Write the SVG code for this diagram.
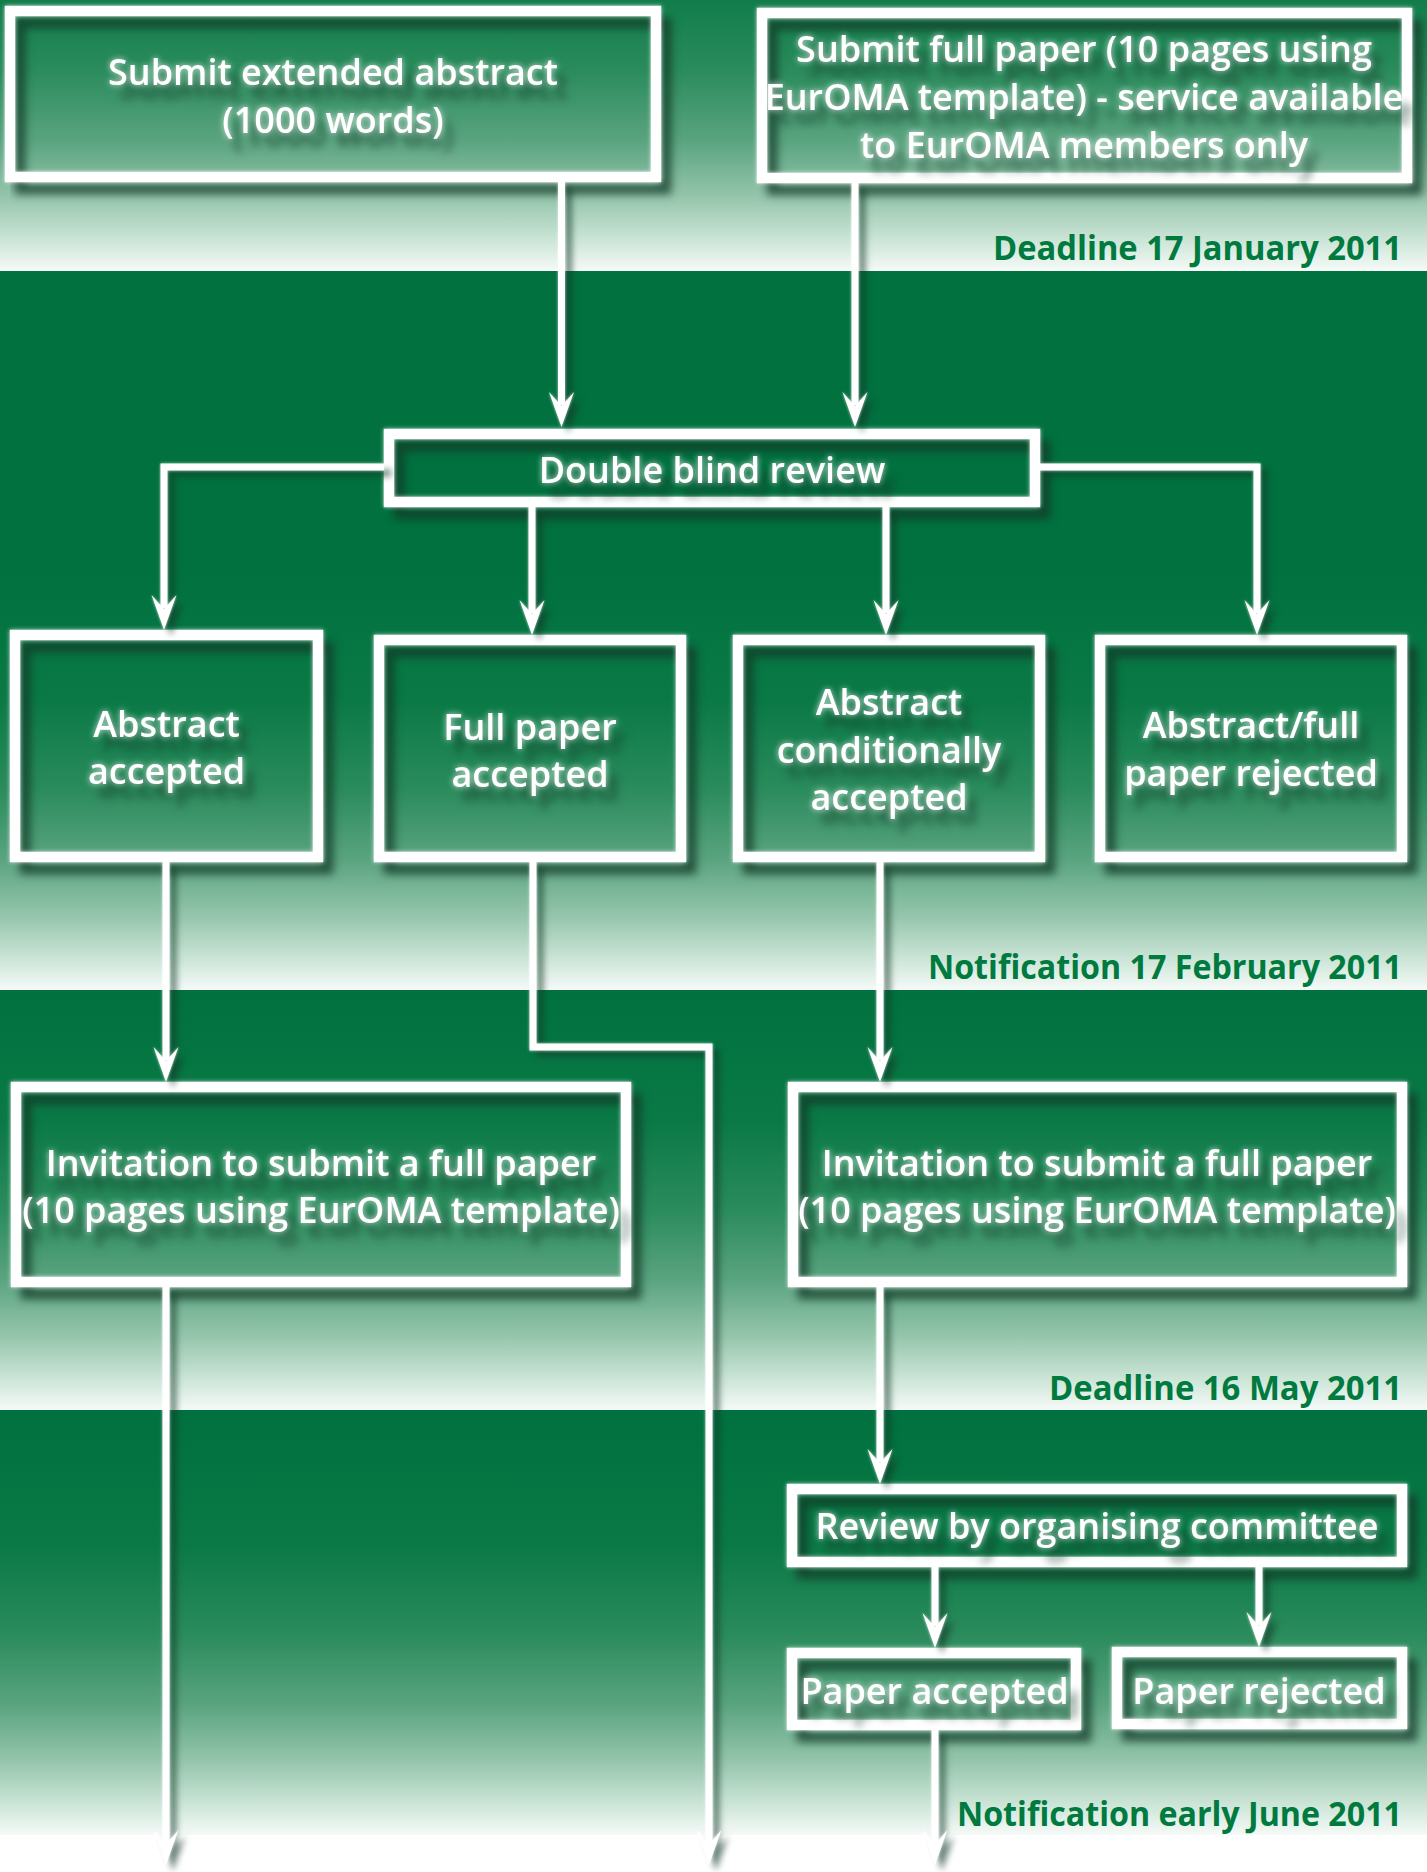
<svg xmlns="http://www.w3.org/2000/svg" width="1427" height="1872" viewBox="0 0 1427 1872">
<style>
.box{fill:none;stroke:#ffffff;stroke-width:10.5}
.t{font-family:'Open Sans','Liberation Sans',Arial,sans-serif;font-weight:600;font-size:36px;fill:#ffffff;text-anchor:middle}
.lbl{font-family:'Open Sans','Liberation Sans',Arial,sans-serif;font-weight:700;font-size:34px;fill:#007a3f;text-anchor:end}
.con{fill:none;stroke:#ffffff;stroke-width:7;stroke-linejoin:miter;marker-end:url(#ah)}
</style>
<defs>
<linearGradient id="g1" gradientUnits="userSpaceOnUse" x1="0" y1="-149" x2="0" y2="271">
<stop offset="0" stop-color="#00713f"/><stop offset="0.31" stop-color="#0a7946"/><stop offset="0.52" stop-color="#2a8b5c"/><stop offset="0.69" stop-color="#5aa480"/><stop offset="0.83" stop-color="#98c7ae"/><stop offset="0.94" stop-color="#d3e9dd"/><stop offset="1" stop-color="#f6faf8"/>
</linearGradient>
<linearGradient id="g2" gradientUnits="userSpaceOnUse" x1="0" y1="570" x2="0" y2="990">
<stop offset="0" stop-color="#00713f"/><stop offset="0.31" stop-color="#0a7946"/><stop offset="0.52" stop-color="#2a8b5c"/><stop offset="0.69" stop-color="#5aa480"/><stop offset="0.83" stop-color="#98c7ae"/><stop offset="0.94" stop-color="#d3e9dd"/><stop offset="1" stop-color="#f6faf8"/>
</linearGradient>
<linearGradient id="g3" gradientUnits="userSpaceOnUse" x1="0" y1="990" x2="0" y2="1410">
<stop offset="0" stop-color="#00713f"/><stop offset="0.31" stop-color="#0a7946"/><stop offset="0.52" stop-color="#2a8b5c"/><stop offset="0.69" stop-color="#5aa480"/><stop offset="0.83" stop-color="#98c7ae"/><stop offset="0.94" stop-color="#d3e9dd"/><stop offset="1" stop-color="#f6faf8"/>
</linearGradient>
<linearGradient id="g4" gradientUnits="userSpaceOnUse" x1="0" y1="1415" x2="0" y2="1835">
<stop offset="0" stop-color="#00713f"/><stop offset="0.31" stop-color="#0a7946"/><stop offset="0.52" stop-color="#2a8b5c"/><stop offset="0.69" stop-color="#5aa480"/><stop offset="0.83" stop-color="#98c7ae"/><stop offset="0.94" stop-color="#d3e9dd"/><stop offset="1" stop-color="#f6faf8"/>
</linearGradient>
<filter id="fbox" filterUnits="userSpaceOnUse" x="0" y="0" width="1427" height="1872" color-interpolation-filters="sRGB">
<feGaussianBlur in="SourceAlpha" stdDeviation="4.5" result="b"/>
<feOffset in="b" dx="10" dy="12" result="o"/>
<feFlood flood-color="#123a28" flood-opacity="0.78"/>
<feComposite in2="o" operator="in" result="sh"/>
<feGaussianBlur in="SourceAlpha" stdDeviation="2" result="g"/>
<feFlood flood-color="#ffffff" flood-opacity="0.7"/>
<feComposite in2="g" operator="in" result="gl"/>
<feMerge><feMergeNode in="sh"/><feMergeNode in="gl"/><feMergeNode in="SourceGraphic"/></feMerge>
</filter>
<filter id="ftx" filterUnits="userSpaceOnUse" x="0" y="0" width="1427" height="1872" color-interpolation-filters="sRGB">
<feGaussianBlur in="SourceAlpha" stdDeviation="4" result="b"/>
<feOffset in="b" dx="10" dy="14" result="o"/>
<feFlood flood-color="#123a28" flood-opacity="0.65"/>
<feComposite in2="o" operator="in" result="sh"/>
<feGaussianBlur in="SourceAlpha" stdDeviation="3" result="g"/>
<feFlood flood-color="#ffffff" flood-opacity="0.8"/>
<feComposite in2="g" operator="in" result="gl"/>
<feMerge><feMergeNode in="sh"/><feMergeNode in="gl"/><feMergeNode in="SourceGraphic"/></feMerge>
</filter>
<filter id="fcon" filterUnits="userSpaceOnUse" x="0" y="0" width="1427" height="1872" color-interpolation-filters="sRGB">
<feGaussianBlur in="SourceAlpha" stdDeviation="3" result="b"/>
<feOffset in="b" dx="7" dy="6" result="o"/>
<feFlood flood-color="#123a28" flood-opacity="0.6"/>
<feComposite in2="o" operator="in" result="sh"/>
<feGaussianBlur in="SourceAlpha" stdDeviation="1.5" result="g"/>
<feFlood flood-color="#ffffff" flood-opacity="0.7"/>
<feComposite in2="g" operator="in" result="gl"/>
<feMerge><feMergeNode in="sh"/><feMergeNode in="gl"/><feMergeNode in="SourceGraphic"/></feMerge>
</filter>
<marker id="ah" markerUnits="userSpaceOnUse" markerWidth="60" markerHeight="40" viewBox="-40 -20 60 40" refX="0" refY="0" orient="auto" overflow="visible">
<path d="M22,0 L-13,-12.5 L1,0 L-13,12.5 Z" fill="#ffffff"/>
</marker>
</defs>

<g id="background">
<rect x="0" y="0" width="1427" height="1872" fill="#ffffff"/>
<rect x="0" y="0" width="1427" height="271" fill="url(#g1)"/>
<rect x="0" y="271" width="1427" height="719" fill="url(#g2)"/>
<rect x="0" y="990" width="1427" height="420" fill="url(#g3)"/>
<rect x="0" y="1410" width="1427" height="425" fill="url(#g4)"/>
</g>

<g id="labels">
<text class="lbl" x="1402" y="260" textLength="409" lengthAdjust="spacingAndGlyphs">Deadline 17 January 2011</text>
<text class="lbl" x="1402" y="979" textLength="474" lengthAdjust="spacingAndGlyphs">Notification 17 February 2011</text>
<text class="lbl" x="1402" y="1400" textLength="353" lengthAdjust="spacingAndGlyphs">Deadline 16 May 2011</text>
<text class="lbl" x="1402" y="1826" textLength="445" lengthAdjust="spacingAndGlyphs">Notification early June 2011</text>
</g>

<g id="n-submit-abstract">
<rect class="box" x="10" y="11" width="646" height="166" filter="url(#fbox)"/>
<text class="t" filter="url(#ftx)"><tspan x="333" y="85">Submit extended abstract</tspan><tspan x="333" y="133">(1000 words)</tspan></text>
</g>
<g id="n-submit-full">
<rect class="box" x="762" y="13" width="645" height="165" filter="url(#fbox)"/>
<text class="t" filter="url(#ftx)"><tspan x="1084" y="62">Submit full paper (10 pages using</tspan><tspan x="1084" y="110">EurOMA template) - service available</tspan><tspan x="1084" y="158">to EurOMA members only</tspan></text>
</g>
<g id="n-double-blind">
<rect class="box" x="389" y="434" width="646" height="68" filter="url(#fbox)"/>
<text class="t" filter="url(#ftx)" x="712" y="483">Double blind review</text>
</g>
<g id="n-abstract-accepted">
<rect class="box" x="15" y="635" width="303" height="222" filter="url(#fbox)"/>
<text class="t" filter="url(#ftx)"><tspan x="166.5" y="737">Abstract</tspan><tspan x="166.5" y="784">accepted</tspan></text>
</g>
<g id="n-full-accepted">
<rect class="box" x="379" y="640" width="302" height="217" filter="url(#fbox)"/>
<text class="t" filter="url(#ftx)"><tspan x="530" y="740">Full paper</tspan><tspan x="530" y="787">accepted</tspan></text>
</g>
<g id="n-abstract-conditional">
<rect class="box" x="738" y="640" width="302" height="217" filter="url(#fbox)"/>
<text class="t" filter="url(#ftx)"><tspan x="889" y="715">Abstract</tspan><tspan x="889" y="763">conditionally</tspan><tspan x="889" y="810">accepted</tspan></text>
</g>
<g id="n-rejected">
<rect class="box" x="1100" y="640" width="302" height="217" filter="url(#fbox)"/>
<text class="t" filter="url(#ftx)"><tspan x="1251" y="738">Abstract/full</tspan><tspan x="1251" y="786">paper rejected</tspan></text>
</g>
<g id="n-invite-left">
<rect class="box" x="16" y="1087" width="610" height="195" filter="url(#fbox)"/>
<text class="t" filter="url(#ftx)"><tspan x="321" y="1176">Invitation to submit a full paper</tspan><tspan x="321" y="1223">(10 pages using EurOMA template)</tspan></text>
</g>
<g id="n-invite-right">
<rect class="box" x="793" y="1087" width="609" height="195" filter="url(#fbox)"/>
<text class="t" filter="url(#ftx)"><tspan x="1097" y="1176">Invitation to submit a full paper</tspan><tspan x="1097" y="1223">(10 pages using EurOMA template)</tspan></text>
</g>
<g id="n-review">
<rect class="box" x="792" y="1489" width="610" height="73" filter="url(#fbox)"/>
<text class="t" filter="url(#ftx)" x="1097" y="1539">Review by organising committee</text>
</g>
<g id="n-paper-accepted">
<rect class="box" x="792" y="1653" width="284" height="72" filter="url(#fbox)"/>
<text class="t" filter="url(#ftx)" x="934.5" y="1704">Paper accepted</text>
</g>
<g id="n-paper-rejected">
<rect class="box" x="1117" y="1652" width="285" height="72" filter="url(#fbox)"/>
<text class="t" filter="url(#ftx)" x="1259" y="1704">Paper rejected</text>
</g>

<g id="connectors" filter="url(#fcon)">
<path class="con" d="M561.5,182 V405"/>
<path class="con" d="M855,183 V405"/>
<path class="con" d="M384,467 H164 V608"/>
<path class="con" d="M532,507 V613"/>
<path class="con" d="M886,507 V613"/>
<path class="con" d="M1040,467 H1257 V613"/>
<path class="con" d="M166,862 V1060"/>
<path class="con" d="M533,862 V1047 H709 V1843"/>
<path class="con" d="M880,862 V1060"/>
<path class="con" d="M166,1287 V1843"/>
<path class="con" d="M880,1287 V1462"/>
<path class="con" d="M935,1567 V1626"/>
<path class="con" d="M1259,1567 V1625"/>
<path class="con" d="M935,1730 V1843"/>
</g>
</svg>
